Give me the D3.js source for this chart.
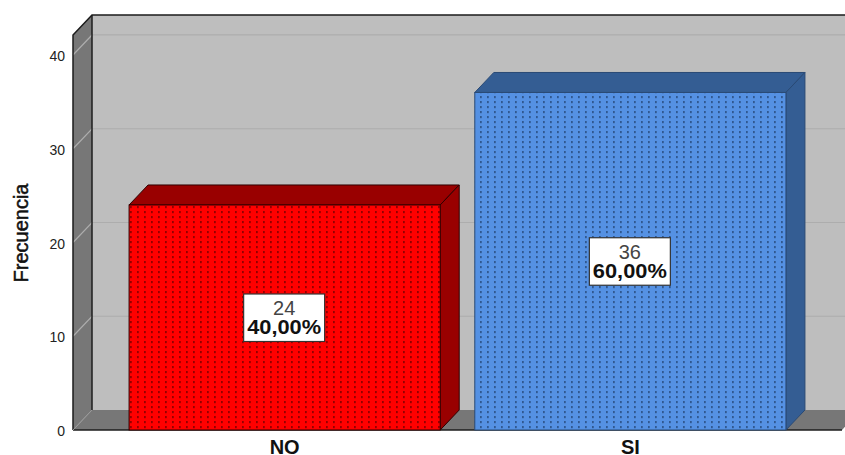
<!DOCTYPE html>
<html>
<head>
<meta charset="utf-8">
<script src="https://cdn.jsdelivr.net/npm/d3@7"></script>
<style>
  html, body { margin: 0; padding: 0; background: #fff; overflow: hidden; }
  svg { display: block; }
</style>
</head>
<body>
<svg id="chart" width="845" height="455"></svg>
<script>
// Data
const categories = ["NO", "SI"];
const counts = [24, 36];
const percents = ["40,00%", "60,00%"];
const yTicks = [0, 10, 20, 30, 40];

// Colours for each bar: front, top and side faces
const barColors = [
  { front: "#ff0000", dark: "#990000", line: "#300000", dots: "#7a0000" },
  { front: "#5591e3", dark: "#345d93", line: "#2a4a75", dots: "#264a7c" }
];

const width = 845;
const height = 455;
const depth = { x: 19, y: -20 };
const fontName = "'Liberation Sans', Arial, sans-serif";

const svg = d3.select("#chart");

// Scales
const yScale = d3.scaleLinear().domain([0, 42.13]).range([430, 35]);
const xScale = d3.scaleBand()
  .domain(categories)
  .range([94.5, 820.5])
  .padding(0.1);

const left = 73;
const right = 842;
const y0 = yScale(0);
const yTop = yScale(42.13);

function poly(points) {
  return points.map(p => p.join(",")).join(" ");
}

// Dot fill of the bars
const defs = svg.append("defs");
barColors.forEach((c, i) => {
  const p = defs.append("pattern")
    .attr("id", "dots" + i)
    .attr("patternUnits", "userSpaceOnUse")
    .attr("x", 129).attr("y", 205)
    .attr("width", 7).attr("height", 5);
  p.append("rect").attr("width", 7).attr("height", 5).attr("fill", c.front);
  p.append("rect").attr("x", 1.2).attr("y", 1).attr("width", 1.4).attr("height", 2.2).attr("fill", c.dots);
});

// Back wall
svg.append("rect")
  .attr("x", left + depth.x).attr("y", yTop + depth.y)
  .attr("width", width).attr("height", y0 - yTop)
  .attr("fill", "#bebebe");

// Left wall
svg.append("polygon")
  .attr("points", poly([[left, yTop], [left + depth.x, yTop + depth.y], [left + depth.x, y0 + depth.y], [left, y0]]))
  .attr("fill", "#777777");

// Floor
svg.append("polygon")
  .attr("points", poly([[left, y0], [left + depth.x, y0 + depth.y], [right + depth.x, y0 + depth.y], [right, y0]]))
  .attr("fill", "#777777");

// Grid lines
const grid = svg.append("g").attr("fill", "none").attr("stroke", "#adadad").attr("stroke-width", 1.2);
yTicks.filter(d => d > 0).forEach(d => {
  grid.append("polyline")
    .attr("points", poly([[left, yScale(d)], [left + depth.x, yScale(d) + depth.y], [width, yScale(d) + depth.y]]));
});

// Wall outlines
const edges = svg.append("g").attr("stroke", "#1c1c1c").attr("stroke-width", 1.5).attr("fill", "none");
edges.append("polyline")
  .attr("points", poly([[left, y0], [left, yTop], [left + depth.x, yTop + depth.y], [width, yTop + depth.y]]));
edges.append("polyline")
  .attr("points", poly([[left + depth.x, yTop + depth.y], [left + depth.x, y0 + depth.y]]));
edges.append("polyline")
  .attr("points", poly([[left, y0], [right, y0]]));
svg.append("line")
  .attr("x1", left).attr("y1", y0).attr("x2", left + depth.x).attr("y2", y0 + depth.y)
  .attr("stroke", "#9a9a9a").attr("stroke-width", 1);

// Bars
const bars = svg.selectAll(".bar")
  .data(categories)
  .enter()
  .append("g")
  .attr("class", "bar");

bars.each(function (d, i) {
  const g = d3.select(this);
  const c = barColors[i];
  const x1 = xScale(d);
  const x2 = x1 + xScale.bandwidth();
  const y = yScale(counts[i]);

  g.append("polygon")
    .attr("points", poly([[x1, y], [x1 + depth.x, y + depth.y], [x2 + depth.x, y + depth.y], [x2, y]]))
    .attr("fill", c.dark).attr("stroke", c.line);
  g.append("polygon")
    .attr("points", poly([[x2, y], [x2 + depth.x, y + depth.y], [x2 + depth.x, y0 + depth.y], [x2, y0]]))
    .attr("fill", c.dark).attr("stroke", c.line);
  g.append("rect")
    .attr("x", x1).attr("y", y)
    .attr("width", x2 - x1).attr("height", y0 - y)
    .attr("fill", `url(#dots${i})`).attr("stroke", c.line);

  // Value box in the middle of the front face
  const cx = (x1 + x2) / 2 - 0.5;
  const cy = (y + y0) / 2;
  g.append("rect")
    .attr("x", cx - 40.5).attr("y", cy - 23.5)
    .attr("width", 81).attr("height", 47.5)
    .attr("fill", "#fff").attr("stroke", "#333").attr("stroke-width", 1.2);
  g.append("text")
    .attr("x", cx).attr("y", cy - 2)
    .attr("text-anchor", "middle")
    .attr("font-family", fontName)
    .attr("font-size", 20).attr("fill", "#444")
    .text(counts[i]);
  g.append("text")
    .attr("x", cx).attr("y", cy + 17)
    .attr("text-anchor", "middle")
    .attr("font-family", fontName)
    .attr("font-weight", "bold")
    .attr("font-size", 20).attr("fill", "#111")
    .attr("textLength", 74).attr("lengthAdjust", "spacingAndGlyphs")
    .text(percents[i]);
});

// Axes
const yAxis = d3.axisLeft(yScale).tickValues(yTicks).tickSize(0).tickPadding(8);
const yG = svg.append("g").attr("transform", `translate(${left},0)`).call(yAxis);
yG.select(".domain").remove();
yG.selectAll("text")
  .attr("dy", "0.4em")
  .attr("font-family", fontName)
  .attr("font-size", 14).attr("fill", "#222");

const xAxis = d3.axisBottom(xScale).tickSize(0).tickPadding(10);
const xG = svg.append("g").attr("transform", `translate(0,${y0})`).call(xAxis);
xG.select(".domain").remove();
xG.selectAll("text")
  .attr("font-family", fontName)
  .attr("font-weight", "bold")
  .attr("font-size", 20).attr("fill", "#111");

// Axis title
svg.append("text")
  .attr("transform", "translate(27.5,233) rotate(-90)")
  .attr("text-anchor", "middle")
  .attr("font-family", fontName)
  .attr("font-size", 20)
  .attr("fill", "#111")
  .attr("stroke", "#111").attr("stroke-width", 0.5)
  .text("Frecuencia");
</script>
</body>
</html>
